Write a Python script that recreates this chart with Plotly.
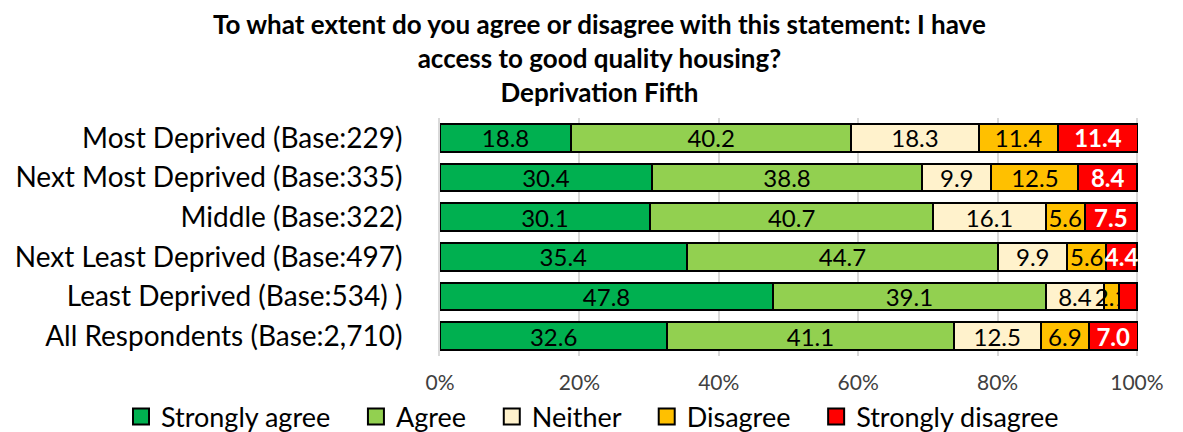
import plotly.graph_objects as go

# ==========================================
# Data
# ==========================================
CATEGORIES = [
    "Most Deprived (Base:229)",
    "Next Most Deprived (Base:335)",
    "Middle (Base:322)",
    "Next Least Deprived (Base:497)",
    "Least Deprived (Base:534) )",
    "All Respondents (Base:2,710)",
]

STRONGLY_AGREE = [18.8, 30.4, 30.1, 35.4, 47.8, 32.6]
AGREE = [40.2, 38.8, 40.7, 44.7, 39.1, 41.1]
NEITHER = [18.3, 9.9, 16.1, 9.9, 8.4, 12.5]
DISAGREE = [11.4, 12.5, 5.6, 5.6, 2.1, 6.9]
STRONGLY_DISAGREE = [11.4, 8.4, 7.5, 4.4, 2.6, 7.0]

X_TICKS = [0, 20, 40, 60, 80, 100]

# ==========================================
# Colours
# ==========================================
COLOR_SA = "#00B050"
COLOR_A = "#92D050"
COLOR_N = "#FFF2CC"
COLOR_D = "#FFC000"
COLOR_SD = "#FF0000"

FONT = "Lato, sans-serif"

# plot area in pixels
PLOT_L, PLOT_R, PLOT_T, PLOT_B = 432, 1130, 110, 348
PLOT_W = PLOT_R - PLOT_L
PLOT_H = PLOT_B - PLOT_T

series = [
    ("Strongly agree", STRONGLY_AGREE, COLOR_SA, "black"),
    ("Agree", AGREE, COLOR_A, "black"),
    ("Neither", NEITHER, COLOR_N, "black"),
    ("Disagree", DISAGREE, COLOR_D, "black"),
    ("Strongly disagree", STRONGLY_DISAGREE, COLOR_SD, "white"),
]

fig = go.Figure()

for name, values, color, text_color in series:
    labels = [f"{v:.1f}" for v in values]
    if name == "Strongly disagree":
        # label hidden behind neighbour in the original (Least Deprived row)
        labels[4] = ""
        labels = [f"<b>{t}</b>" if t else "" for t in labels]
    fig.add_trace(
        go.Bar(
            y=CATEGORIES,
            x=values,
            name=name,
            orientation="h",
            marker=dict(
                color=color,
                line=dict(color="black", width=2)
            ),
            text=labels,
            textposition="inside",
            insidetextanchor="middle",
            textangle=0,
            textfont=dict(color=text_color, size=24, family=FONT),
            cliponaxis=False,
            hoverinfo="skip",
            showlegend=False,
        )
    )

# Legend entries (bigger square swatches than bar legend)
PAD = "\u00a0" * 3
for i, (name, values, color, text_color) in enumerate(series):
    fig.add_trace(
        go.Scatter(
            x=[None],
            y=[None],
            mode="markers",
            name=name + (PAD if i < len(series) - 1 else ""),
            marker=dict(
                symbol="square",
                size=16,
                color=color,
                line=dict(color="black", width=2)
            ),
            hoverinfo="skip",
        )
    )

# Title (three lines)
fig.add_annotation(
    text="<b>To what extent do you agree or disagree with this statement: I have"
         "<br>access to good quality housing?<br>Deprivation Fifth</b>",
    xref="paper",
    yref="paper",
    x=(591 - PLOT_L) / PLOT_W,
    y=(PLOT_B - 50) / PLOT_H,
    xanchor="center",
    yanchor="middle",
    align="center",
    showarrow=False,
    font=dict(size=26, color="black", family=FONT),
)

fig.update_layout(
    width=1183,
    height=432,
    barmode="stack",
    bargap=0.3,
    plot_bgcolor="white",
    paper_bgcolor="white",
    uniformtext=dict(minsize=24, mode="show"),
    font=dict(family=FONT, color="black"),
    margin=dict(l=PLOT_L, r=1183 - PLOT_R, t=PLOT_T, b=432 - PLOT_B,
                autoexpand=False),
    showlegend=True,
    legend=dict(
        orientation="h",
        traceorder="normal",
        x=(113 - PLOT_L) / PLOT_W,
        xanchor="left",
        y=(PLOT_B - 409) / PLOT_H,
        yanchor="middle",
        font=dict(size=27, color="black", family=FONT),
        itemwidth=30,
        itemsizing="trace",
    ),
)

fig.update_xaxes(
    range=[0, 100.15],
    tickvals=X_TICKS,
    ticktext=[f"{t}%" for t in X_TICKS],
    showgrid=True,
    gridcolor="#D9D9D9",
    gridwidth=2,
    zeroline=False,
    showline=False,
    ticks="",
    ticklabelstandoff=12,
    tickfont=dict(size=21, color="#404040", family=FONT),
)

fig.update_yaxes(
    autorange="reversed",
    tickmode="linear",
    dtick=1,
    showgrid=False,
    zeroline=False,
    showline=True,
    linecolor="#D9D9D9",
    linewidth=2,
    ticks="",
    ticklabelstandoff=30,
    tickfont=dict(size=28, color="black", family=FONT),
)

fig.write_html("out.html")
